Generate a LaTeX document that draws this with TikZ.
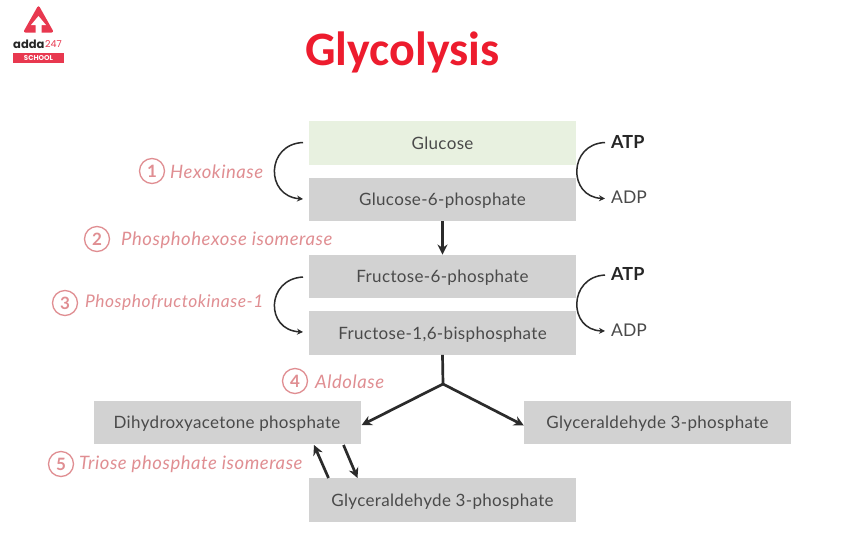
\documentclass[tikz,border=0pt]{standalone}
\usepackage{fontspec}
\setmainfont{Lato}
\newfontfamily\titlefont{Carlito}
\newfontfamily\logofont{Poppins}
\newfontfamily\boxfont[LetterSpace=2]{Lato}
\newfontfamily\enzfont[LetterSpace=3]{Lato}
\usetikzlibrary{arrows.meta,calc}
\definecolor{boxgray}{HTML}{D2D2D2}
\definecolor{boxgreen}{HTML}{E8F1E0}
\definecolor{ink}{HTML}{4A4A4A}
\definecolor{arrowink}{HTML}{2B2B2B}
\definecolor{enz}{HTML}{E08E92}
\definecolor{brand}{HTML}{E8384F}
\definecolor{titlered}{HTML}{ED1C2E}
\tikzset{
  x=1pt,y=-1pt,
  metabox/.style={fill=boxgray,minimum width=267pt,minimum height=43.5pt,inner sep=0pt,text=ink,text height=15pt,text depth=3pt,font=\boxfont\fontsize{17}{19}\selectfont,anchor=center},
  flow/.style={draw=arrowink,line width=2.7pt,-{Stealth[length=10pt,width=10pt]}},
  curved/.style={draw=arrowink,line width=1.5pt,-{Stealth[length=6pt,width=6pt]}},
  num/.style={circle,draw=enz,line width=1.3pt,minimum size=25pt,inner sep=0pt,text=enz,font=\fontsize{17}{18}\selectfont\bfseries},
  enzlabel/.style={text=enz,inner sep=0pt,anchor=west,font=\enzfont\fontsize{18.5}{20}\selectfont\itshape},
  cof/.style={inner sep=0pt,anchor=west,text=ink,font=\fontsize{17.5}{19}\selectfont},
  cofb/.style={cof,text=black!85,font=\fontsize{18}{19}\selectfont\bfseries}
}
\begin{document}
\begin{tikzpicture}
\useasboundingbox (0,0) rectangle (851,544);
\fill[white] (0,0) rectangle (851,544);
% logo
\fill[brand,rounded corners=2.5pt] (38.5,5) -- (23,32.5) -- (54,32.5) -- cycle;
\fill[white] (38.5,16) -- (31,25) -- (35.5,25) -- (35.5,33) -- (41.5,33) -- (41.5,25) -- (46,25) -- cycle;
\fill[brand] (13,53) rectangle (64,63);
\node[inner sep=0pt,anchor=center,text=white] (logoschool) at (38.5,58) {\logofont\bfseries\fontsize{7}{8}\selectfont SCHOOL};
\node[inner sep=0pt,anchor=west,text=black!85] (logoadda) at (13,44) {\logofont\bfseries\fontsize{11.5}{13}\selectfont adda};
\node[inner sep=0pt,anchor=west,text=brand] (logo247) at (45,44) {\logofont\fontsize{9.5}{11}\selectfont 247};
% title
\node[inner sep=0pt,text=titlered] (title) at (402.5,52) {\titlefont\bfseries\fontsize{48}{52}\selectfont Glycolysis};
% boxes
\node[metabox,fill=boxgreen] (glc) at (442.5,143) {Glucose};
\node[metabox] (g6p) at (442.5,199.5) {Glucose-6-phosphate};
\node[metabox] (f6p) at (442.5,276.5) {Fructose-6-phosphate};
\node[metabox] (fbp) at (442.5,333) {Fructose-1,6-bisphosphate};
\node[metabox] (dhap) at (227,422.5) {Dihydroxyacetone phosphate};
\node[metabox] (gapr) at (657.5,422.5) {Glyceraldehyde 3-phosphate};
\node[metabox] (gapb) at (442.5,500) {Glyceraldehyde 3-phosphate};
% straight arrows
\coordinate (fork) at (443,384);
\draw[flow] (g6p.south) -- (f6p.north);
\draw[draw=arrowink,line width=2.7pt] (fbp.south) -- (fork);
\draw[flow,line join=miter] (fork) -- ($(dhap.east)+(1,2.5)$);
\draw[flow] (fork) -- ($(gapr.west)+(0,3)$);
\coordinate (up1) at (328.5,478);
\coordinate (up2) at (314,445);
\coordinate (dn1) at (343.5,445);
\coordinate (dn2) at (357.5,478);
\draw[flow] (up1) -- (up2);
\draw[flow] (dn1) -- (dn2);
% curved left
\coordinate (l1s) at (303,142.5);
\coordinate (l1e) at (303,199);
\draw[curved] (l1s) .. controls (266,144) and (265,196) .. (l1e);
\coordinate (l2s) at (303,277);
\coordinate (l2e) at (303,332);
\draw[curved] (l2s) .. controls (266,279) and (265,330) .. (l2e);
% right
\node[cofb] (atp1) at (611,141.5) {ATP};
\node[cof] (adp1) at (611,197.5) {ADP};
\node[cofb] (atp2) at (611,274) {ATP};
\node[cof] (adp2) at (611,330.5) {ADP};
\draw[curved] ($(atp1.west)+(-6,1)$) .. controls (568,144) and (568,197) .. ($(adp1.west)+(-6,1)$);
\draw[curved] ($(atp2.west)+(-6,1)$) .. controls (568,277) and (568,330) .. ($(adp2.west)+(-6,0.5)$);
% enzymes
\node[num] (n1) at (152,171) {1};
\node[enzlabel] (e1) at (170,172) {Hexokinase};
\node[num] (n2) at (97,239) {2};
\node[enzlabel] (e2) at (121,240) {Phosphohexose isomerase};
\node[num] (n3) at (65,303) {3};
\node[enzlabel,font=\enzfont\fontsize{17.4}{20}\selectfont\itshape] (e3) at (85,302.5) {Phosphofructokinase-1};
\node[num] (n4) at (295,381) {4};
\node[enzlabel] (e4) at (315,381.5) {Aldolase};
\node[num] (n5) at (61,464) {5};
\node[enzlabel] (e5) at (79,464.5) {Triose phosphate isomerase};
\end{tikzpicture}
\end{document}
